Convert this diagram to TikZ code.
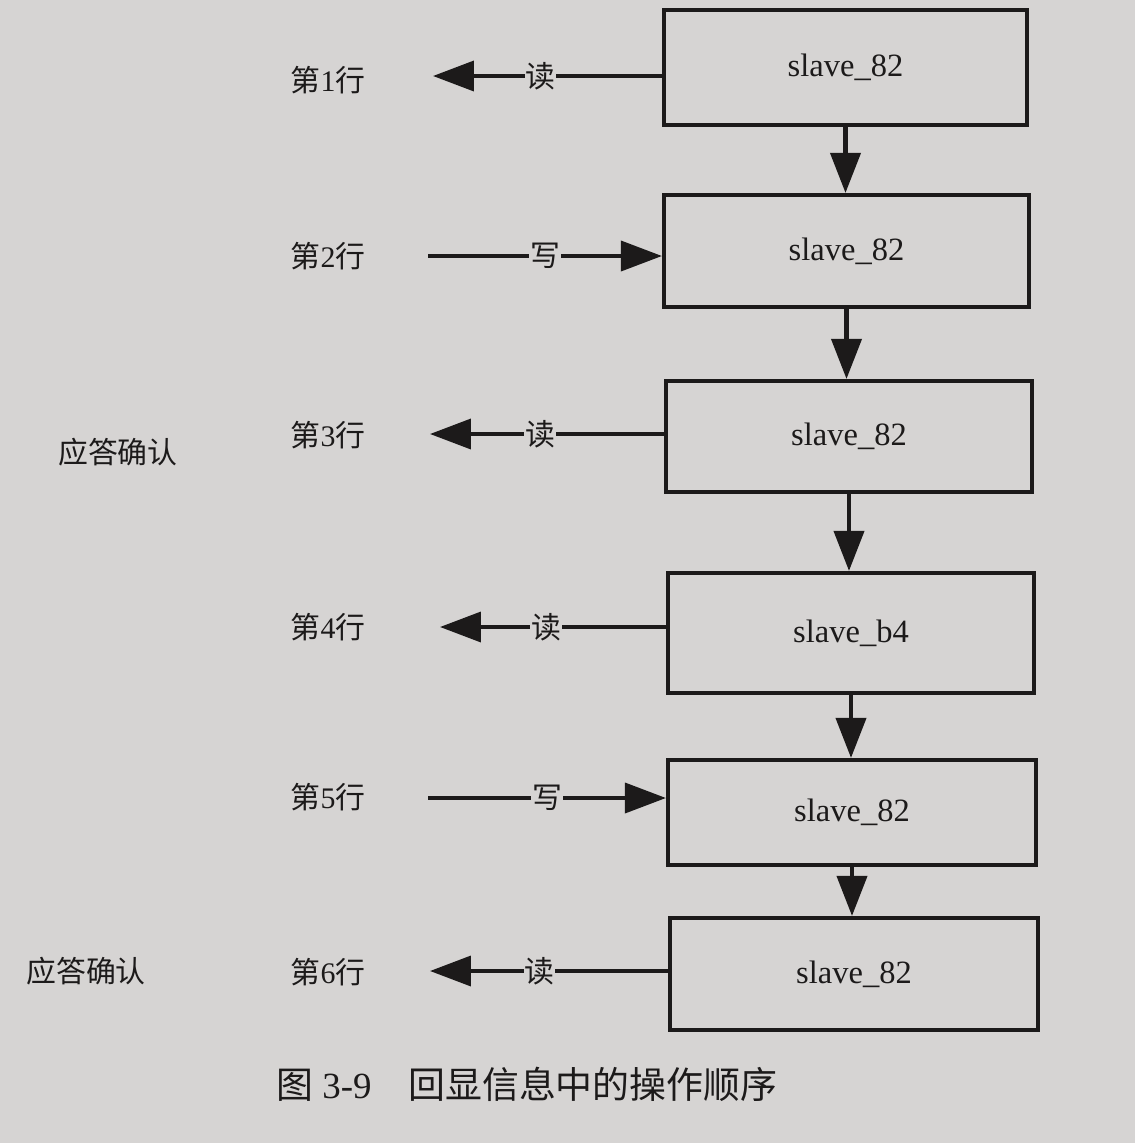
\documentclass[tikz,border=0pt]{standalone}
\usepackage{fontspec}
\setmainfont{Liberation Serif}
\newfontfamily\cjk{Noto Sans CJK SC}
\usetikzlibrary{arrows.meta}
\definecolor{paper}{RGB}{214,212,211}
\definecolor{ink}{RGB}{28,26,26}
\begin{document}
\begin{tikzpicture}[x=0.02cm,y=-0.02cm,
  slavebox/.style={draw=ink,line width=2.4pt,fill=paper,inner sep=0pt,
    font=\fontsize{18.5}{20}\selectfont,text=ink},
  rowlabel/.style={font=\fontsize{17}{20}\selectfont,text=ink,inner sep=1pt},
  oplabel/.style={font=\cjk\fontsize{17}{20}\selectfont,text=ink,fill=paper,inner sep=0.5pt},
  conn/.style={draw=ink,line width=2.1pt,-{Triangle[length=0.82cm,width=0.6cm]}},
  down/.style={draw=ink,line width=2.3pt,-{Triangle[length=0.8cm,width=0.6cm]}}]
\fill[paper] (0,0) rectangle (1135,1143);
\useasboundingbox (0,0) rectangle (1135,1143);

% boxes
\node[slavebox,minimum width=7.26cm,minimum height=2.30cm] (b1) at (845.5,67.5) {slave\_82};
\node[slavebox,minimum width=7.30cm,minimum height=2.24cm] (b2) at (846.5,251) {slave\_82};
\node[slavebox,minimum width=7.32cm,minimum height=2.22cm] (b3) at (849,436.5) {slave\_82};
\node[slavebox,minimum width=7.32cm,minimum height=2.40cm] (b4) at (851,633) {slave\_b4};
\node[slavebox,minimum width=7.36cm,minimum height=2.10cm] (b5) at (852,812.5) {slave\_82};
\node[slavebox,minimum width=7.36cm,minimum height=2.24cm] (b6) at (854,974) {slave\_82};

% vertical arrows
\draw[down] (b1.south) -- (b1.south |- b2.north);
\draw[down] (b2.south) -- (b2.south |- b3.north);
\draw[down] (b3.south) -- (b3.south |- b4.north);
\draw[down] (b4.south) -- (b4.south |- b5.north);
\draw[down] (b5.south) -- (b5.south |- b6.north);

% row labels
\node[rowlabel] (r1) at (328,80) {{\cjk 第}1{\cjk 行}};
\node[rowlabel] (r2) at (328,256) {{\cjk 第}2{\cjk 行}};
\node[rowlabel] (r3) at (328,435) {{\cjk 第}3{\cjk 行}};
\node[rowlabel] (r4) at (328,627) {{\cjk 第}4{\cjk 行}};
\node[rowlabel] (r5) at (328,797) {{\cjk 第}5{\cjk 行}};
\node[rowlabel] (r6) at (328,972) {{\cjk 第}6{\cjk 行}};

% side labels
\node[rowlabel,font=\cjk\fontsize{17}{20}\selectfont] (a1) at (118,452) {应答确认};
\node[rowlabel,font=\cjk\fontsize{17}{20}\selectfont] (a2) at (86,971) {应答确认};

% free ends
\coordinate (e1) at (433,76);
\coordinate (s2) at (428,256);
\coordinate (e3) at (430,434);
\coordinate (e4) at (440,627);
\coordinate (s5) at (428,798);
\coordinate (e6) at (430,971);

% horizontal connectors
\draw[conn] (b1.west |- e1) -- node[oplabel,pos=0.53] {读} (e1);
\draw[conn] (s2) -- node[oplabel,pos=0.50] {写} (b2.west |- s2);
\draw[conn] (b3.west |- e3) -- node[oplabel,pos=0.53] {读} (e3);
\draw[conn] (b4.west |- e4) -- node[oplabel,pos=0.53] {读} (e4);
\draw[conn] (s5) -- node[oplabel,pos=0.50] {写} (b5.west |- s5);
\draw[conn] (b6.west |- e6) -- node[oplabel,pos=0.54] {读} (e6);

% caption
\node[font=\fontsize{21}{24}\selectfont,text=ink,anchor=west] (cap) at (270,1084)
  {{\cjk 图} 3-9\hspace{1em}{\cjk 回显信息中的操作顺序}};
\end{tikzpicture}
\end{document}
